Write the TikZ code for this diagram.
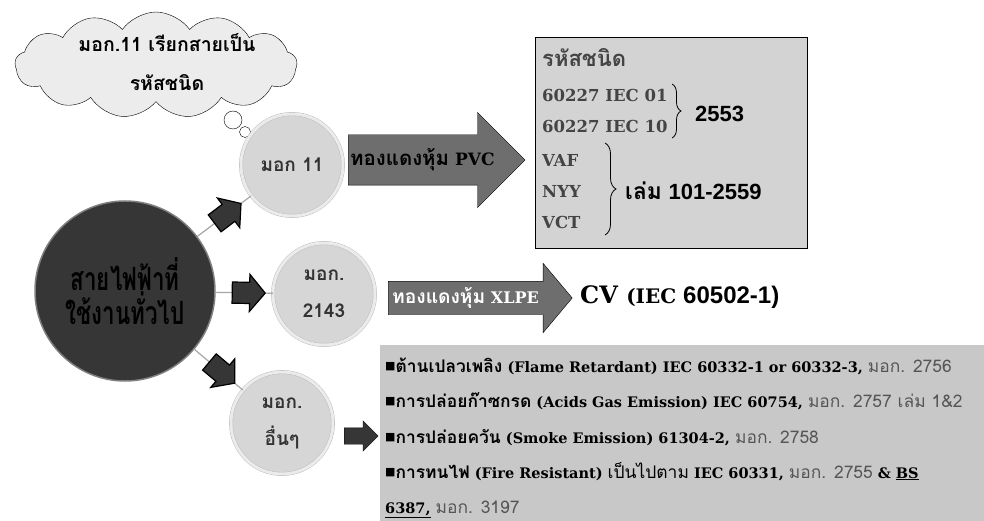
\documentclass[tikz,border=0pt]{standalone}
\usepackage{fontspec}
\setmainfont{DejaVu Serif}
\newfontfamily\thai[Script=Thai]{Loma}
\newfontfamily\thaim[Script=Thai, Scale=1.2]{Loma}
\newfontfamily\arial{Liberation Sans}
\newfontfamily\symb{DejaVu Sans}
\usetikzlibrary{shapes.arrows, shapes.symbols, decorations.pathreplacing}

\definecolor{darkball}{HTML}{363636}
\definecolor{lightball}{HTML}{D6D6D6}
\definecolor{ballrim}{HTML}{B8B8B8}
\definecolor{arrowgray}{HTML}{6E6E6E}
\definecolor{boxgray}{HTML}{D3D3D3}
\definecolor{notegray}{HTML}{C8C8C8}
\definecolor{txtdark}{HTML}{333333}
\definecolor{txtgray}{HTML}{444444}
\definecolor{stdgray}{HTML}{555555}
\definecolor{cloudgray}{HTML}{ECECEC}

\newcommand{\bul}{\raisebox{3pt}{\symb\fontsize{11}{11}\selectfont ■}}
\newcommand{\thb}[1]{{\thaim\bfseries #1}}
\newcommand{\thn}[1]{{\thaim\mdseries #1}}
\newcommand{\tis}[1]{{\thaim\mdseries\color{stdgray}#1}}

\begin{document}
\begin{tikzpicture}[x=1pt, y=-1pt]
\useasboundingbox (0,0) rectangle (984,521);

% thought cloud
\node[cloud, draw=black, fill=cloudgray, cloud puffs=13, cloud puff arc=110,
      aspect=2.6, minimum width=282pt, minimum height=106pt, inner sep=0pt] (cloud) at (156,65) {};
\node[align=center, font=\thai\bfseries\fontsize{19.5}{39}\selectfont] (cloudtext) at (167,62)
  {มอก.11 เรียกสายเป็น\\รหัสชนิด};
\begin{scope}[every node/.style={circle, draw=black, fill=white, inner sep=0pt}]
  \node[minimum size=18pt] (b1) at (233,120) {};
  \node[minimum size=11pt] (b2) at (245,132) {};
  \node[minimum size=6pt] (b3) at (251,138) {};
\end{scope}

% the balls
\node[circle, fill=darkball, draw=gray, line width=1.5pt, minimum size=180pt, inner sep=0pt,
      align=center, text=black, font=\thai\bfseries\fontsize{32}{34}\selectfont] (cable) at (125,291)
  {\scalebox{0.7}[1]{สายไฟฟ้าที่}\\\scalebox{0.7}[1]{ใช้งานทั่วไป}};
\begin{scope}[every node/.style={circle, fill=lightball, draw=ballrim, double=white!92!black,
              double distance=3pt, minimum size=102pt, inner sep=0pt, text=txtdark,
              align=center, font=\thai\bfseries\fontsize{19}{37}\selectfont}]
  \node (tis11) at (292,165) {มอก 11};
  \node (tis2143) at (324,294) {มอก.\\2143};
  \node (tisother) at (282,423) {มอก.\\อื่นๆ};
\end{scope}

\begin{scope}[every node/.style={single arrow, draw=black, fill=darkball, inner xsep=0pt,
              inner ysep=10pt, minimum height=33pt, single arrow head extend=8pt,
              single arrow tip angle=100},
              every path/.style={draw=gray!70, line width=1.2pt}]
  \path (cable) -- node[sloped] (up) {} (tis11);
  \path (cable) -- node[sloped] (mid) {} (tis2143);
  \path (cable) -- node[sloped] (down) {} (tisother);
\end{scope}

% code box
\node[draw=black, fill=boxgray, minimum width=272pt, minimum height=211pt, inner sep=0pt,
      anchor=north west] (codes) at (535,37) {};
\begin{scope}[every node/.style={anchor=base west, inner sep=0pt, text=txtgray,
              font=\bfseries\fontsize{16.5}{16.5}\selectfont}]
  \node[font=\thai\bfseries\fontsize{22}{22}\selectfont] (codehead) at (542,67) {รหัสชนิด};
  \node (c01) at (542,102) {60227 IEC 01};
  \node (c10) at (542,133) {60227 IEC 10};
  \node (vaf) at (542,167) {VAF};
  \node (nyy) at (542,198) {NYY};
  \node (vct) at (542,229) {VCT};
\end{scope}
\coordinate (br1a) at (672,84);
\coordinate (br1b) at (672,138);
\coordinate (br2a) at (605,143);
\coordinate (br2b) at (605,235);
\draw[decorate, decoration={brace, amplitude=9pt, aspect=0.5}, thick] (br1a) -- (br1b);
\draw[decorate, decoration={brace, amplitude=11pt, aspect=0.5}, thick] (br2a) -- (br2b);
\node[anchor=base west, inner sep=0pt, font=\arial\bfseries\fontsize{22}{22}\selectfont] (y2553) at (695,122) {2553};
\node[anchor=base west, inner sep=0pt, font=\bfseries\fontsize{19}{19}\selectfont] (book) at (625,200)
  {\thb{เล่ม} {\arial\fontsize{22}{22}\selectfont 101-2559}};

% block arrows
\node[single arrow, draw=black, fill=arrowgray, minimum height=177pt, inner xsep=0pt,
      inner ysep=25pt, single arrow head extend=22.5pt, anchor=tail] (pvc) at (348,160) {};
\node[anchor=west, inner sep=0pt, font=\bfseries\fontsize{17}{17}\selectfont] (pvctext) at (350,160)
  {\thb{ทองแดงหุ้ม} PVC};
\node[single arrow, draw=black, fill=arrowgray, minimum height=184pt, inner xsep=0pt,
      inner ysep=16.5pt, single arrow head extend=18pt, single arrow tip angle=100,
      anchor=tail] (xlpe) at (388,298) {};
\node[anchor=west, inner sep=0pt, text=white, font=\bfseries\fontsize{16}{16}\selectfont] (xlpetext) at (392,298)
  {\thb{ทองแดงหุ้ม} XLPE};
\node[anchor=base west, inner sep=0pt, font=\bfseries\fontsize{24}{24}\selectfont] (cv) at (580,303)
  {CV {\fontsize{20}{20}\selectfont (IEC {\arial\fontsize{24}{24}\selectfont 60502-1)}}};
\node[single arrow, draw=black, fill=darkball, minimum height=34pt, inner xsep=0pt,
      inner ysep=8pt, single arrow head extend=7pt, anchor=tail] (toprop) at (344,436) {};

% property box
\node[fill=notegray, minimum width=604pt, minimum height=176pt, inner sep=0pt,
      anchor=north west] (props) at (380,345) {};
\begin{scope}[every node/.style={anchor=base west, inner sep=0pt,
              font=\bfseries\fontsize{14.5}{14.5}\selectfont}]
  \node (p1) at (385,372) {\bul\thb{ต้านเปลวเพลิง} (Flame Retardant) IEC 60332-1 or 60332-3, \tis{มอก. 2756}};
  \node (p2) at (385,407) {\bul\thb{การปล่อยก๊าซกรด} (Acids Gas Emission) IEC 60754, \tis{มอก. 2757 เล่ม 1\&2}};
  \node (p3) at (385,443) {\bul\thb{การปล่อยควัน} (Smoke Emission) 61304-2, \tis{มอก. 2758}};
  \node (p4) at (385,478) {\bul\thb{การทนไฟ} (Fire Resistant) \thn{เป็นไปตาม} IEC 60331, \tis{มอก. 2755} \& \underline{BS}};
  \node (p5) at (385,513) {\underline{6387,} \tis{มอก. 3197}};
\end{scope}

\end{tikzpicture}
\end{document}
